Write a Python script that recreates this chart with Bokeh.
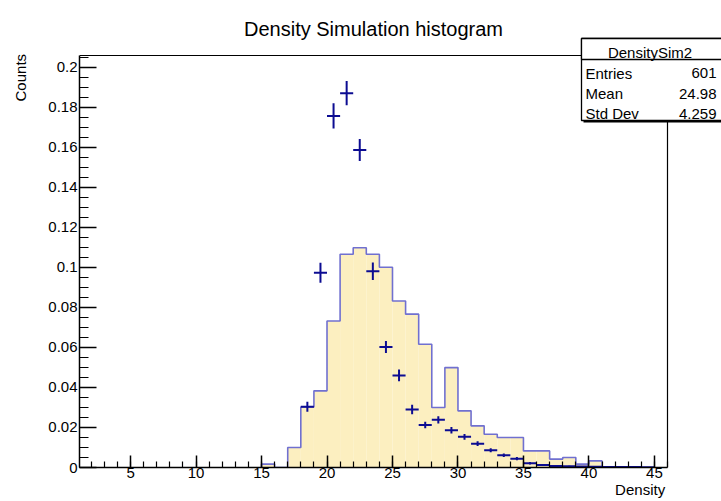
import numpy as np
from bokeh.plotting import figure
from bokeh.models import FixedTicker, CustomJSTickFormatter, Range1d, LinearAxis
from bokeh.core.properties import value
from bokeh.embed import file_html
from bokeh.resources import INLINE

# ---------------- data ----------------
# filled histogram (bin width 1, low edges)
bin_low = [15, 16, 17, 18, 19, 20, 21, 22, 23, 24, 25, 26, 27,
           28, 29, 30, 31, 32, 33, 34, 35, 36, 37, 38, 39, 40]
bin_value = [0.0017, 0.0, 0.0100, 0.0302, 0.0383, 0.0732, 0.1065, 0.1098,
             0.1065, 0.1000, 0.0832, 0.0766, 0.0616, 0.0300, 0.0499, 0.0283,
             0.0208, 0.0166, 0.0150, 0.0150, 0.0083, 0.0083, 0.0042, 0.0050,
             0.0017, 0.0033]
bin_width = 1.0

# data points with error bars (DensitySim2)
pt_x = [18.5, 19.5, 20.5, 21.5, 22.5, 23.5, 24.5, 25.5, 26.5, 27.5, 28.5,
        29.5, 30.5, 31.5, 32.5, 33.5, 34.5, 35.5, 36.5, 37.5, 38.5, 39.5,
        40.5, 41.5, 42.5, 43.5, 44.5]
pt_y = [0.0304, 0.0973, 0.1756, 0.1870, 0.1586, 0.0980, 0.0602, 0.0460,
        0.0290, 0.0212, 0.0238, 0.0186, 0.0153, 0.0119, 0.0086, 0.0061,
        0.0044, 0.0021, 0.0012, 0.0008, 0.0006, 0.0005, 0.0004, 0.0003,
        0.0002, 0.0002, 0.0001]
pt_err = [0.0025, 0.0050, 0.0063, 0.0060, 0.0055, 0.0044, 0.0030, 0.0029,
          0.0024, 0.0016, 0.0018, 0.0016, 0.0014, 0.0012, 0.0010, 0.0009,
          0.0008, 0.0006, 0.0005, 0.0004, 0.0003, 0.0003, 0.0003, 0.0002,
          0.0002, 0.0002, 0.0001]

x_major_ticks = [5, 10, 15, 20, 25, 30, 35, 40, 45]
y_major_ticks = [0, 0.02, 0.04, 0.06, 0.08, 0.1, 0.12, 0.14, 0.16, 0.18, 0.2]

title_text = "Density Simulation histogram"
x_title = "Density"
y_title = "Counts"
stats_name = "DensitySim2"
stats_labels = ["Entries", "Mean", "Std Dev"]
stats_values = ["601", "24.98", "4.259"]

# ---------------- layout constants ----------------
W, H = 721, 501
FL, FR, FT, FB = 79, 667, 55, 467        # ROOT frame in canvas pixels
AX0, AX1 = 1.1, 46.0                      # x axis extent
AY0, AY1 = 0.0, 0.2058                    # y axis extent
SX = (FR - FL) / (AX1 - AX0)              # px per x unit
SY = (FB - FT) / (AY1 - AY0)              # px per y unit
FONT = "Liberation Sans"
FILL = "#fcefc0"
HLINE = "#7070d0"
PCOL = "#0c0c92"
NBSP_W = 0.2778 * 15                      # width of a no-break space at 15px


def cx(px):
    return AX0 + (px - FL) / SX


def cy(py):
    return AY0 + (FB - py) / SY


# Bokeh frame spans the whole canvas right of / above the axes
p = figure(width=W, height=H, output_backend="svg", toolbar_location=None,
           title=None,
           x_range=Range1d(AX0, cx(W)), y_range=Range1d(AY0, cy(0)),
           min_border_left=FL, min_border_right=0,
           min_border_top=0, min_border_bottom=H - FB)
p.background_fill_color = "white"
p.border_fill_color = "white"
p.outline_line_color = None
p.xgrid.visible = False
p.ygrid.visible = False

# title
p.text(x=[cx(373)], y=[cy(28.3)], text=[title_text], text_align="center",
       text_baseline="alphabetic", text_font=value(FONT),
       text_font_size=value("20px"), text_color="black")

# histogram fill and outline
lo = np.array(bin_low, dtype=float)
hi = lo + bin_width
val = np.array(bin_value, dtype=float)
p.quad(left=lo, right=hi, bottom=0, top=val, fill_color=FILL, line_color=None)
step_x = np.concatenate([[lo[0]], np.column_stack([lo, hi]).ravel(), [hi[-1]]])
step_y = np.concatenate([[0.0], np.repeat(val, 2), [0.0]])
p.line(step_x, step_y, line_color=HLINE, line_width=1.6)

# data points: horizontal (bin width) and vertical (error) bars
px_ = np.array(pt_x)
py_ = np.array(pt_y)
pe_ = np.array(pt_err)
p.segment(x0=px_ - bin_width / 2, x1=px_ + bin_width / 2, y0=py_, y1=py_,
          line_color=PCOL, line_width=2)
p.segment(x0=px_, x1=px_, y0=py_ - pe_, y1=py_ + pe_,
          line_color=PCOL, line_width=2)

# ROOT frame: top and right edges
p.segment(x0=[AX0, AX1], y0=[AY1, 0], x1=[AX1, AX1], y1=[AY1, AY1],
          line_color="black", line_width=1.2)

# stats box (shadow, body, header)
p.quad(left=[cx(583)], right=[cx(760)], top=[cy(40)], bottom=[cy(122)],
       fill_color="black", line_color=None)
p.quad(left=[cx(581)], right=[cx(760)], top=[cy(38)], bottom=[cy(120)],
       fill_color="white", line_color="black", line_width=1.3)
p.quad(left=[cx(581)], right=[cx(760)], top=[cy(38)], bottom=[cy(59)],
       fill_color="white", line_color="black", line_width=1.3)
p.text(x=[cx(649.5)], y=[cy(52)], text=[stats_name], text_align="center",
       text_baseline="alphabetic", text_font=value(FONT),
       text_font_size=value("15px"), text_color="black")
row_y = [cy(72.7 + 20.3 * i) for i in range(len(stats_labels))]
p.text(x=[cx(585)] * len(stats_labels), y=row_y, text=stats_labels, text_align="left",
       text_baseline="alphabetic", text_font=value(FONT),
       text_font_size=value("15px"), text_color="black")
p.text(x=[cx(716)] * len(stats_values), y=row_y, text=stats_values, text_align="right",
       text_baseline="alphabetic", text_font=value(FONT),
       text_font_size=value("15px"), text_color="black")

# axes
for ax in (p.xaxis[0], p.yaxis[0]):
    ax.axis_line_color = "black"
    ax.axis_line_width = 1.5
    ax.major_tick_line_color = "black"
    ax.minor_tick_line_color = "black"
    ax.major_tick_line_width = 1.5
    ax.minor_tick_line_width = 1.2
    ax.major_tick_out = 0
    ax.minor_tick_out = 0
    ax.major_label_text_font = FONT
    ax.major_label_text_font_size = "15px"
    ax.major_label_text_color = "black"

p.xaxis.bounds = (AX0, AX1)
p.xaxis.ticker = FixedTicker(ticks=x_major_ticks, minor_ticks=list(range(2, 47)))
p.xaxis.major_tick_in = 12
p.xaxis.minor_tick_in = 6
p.xaxis.major_label_standoff = 0

p.yaxis.bounds = (AY0, AY1)
p.yaxis.ticker = FixedTicker(ticks=y_major_ticks,
                             minor_ticks=[round(0.005 * i, 3) for i in range(0, 42)])
p.yaxis.formatter = CustomJSTickFormatter(code="return parseFloat(tick.toFixed(3)).toString();")
p.yaxis.major_tick_in = 17
p.yaxis.minor_tick_in = 9
p.yaxis.major_label_standoff = 2


def title_axis(text, standoff):
    a = LinearAxis(axis_label=text, ticker=FixedTicker(ticks=[]),
                   axis_line_color=None, major_tick_line_color=None,
                   minor_tick_line_color=None, major_label_text_font_size="0px",
                   major_label_standoff=0, major_tick_in=0, major_tick_out=0,
                   minor_tick_in=0, minor_tick_out=0,
                   axis_label_standoff=standoff)
    a.axis_label_text_font = FONT
    a.axis_label_text_font_size = "15px"
    a.axis_label_text_font_style = "normal"
    a.axis_label_text_color = "black"
    return a


# axis titles at the axis ends (ROOT style): the label is centred on the
# frame, so it is shifted along with leading no-break spaces
x_text_w = 3.334 * 15
x_pad = 2 * (665 - x_text_w / 2 - (FL + W) / 2)
y_text_w = 3.168 * 15
y_pad = 2 * ((0 + FB) / 2 - (53.3 + y_text_w / 2))
x_label = "\u00a0" * int(round(x_pad / NBSP_W)) + x_title
y_label = "\u00a0" * int(round(y_pad / NBSP_W)) + y_title
p.add_layout(title_axis(x_label, 0), "below")
p.add_layout(title_axis(y_label, 17), "left")

open("out.html", "w").write(file_html(p, INLINE))
